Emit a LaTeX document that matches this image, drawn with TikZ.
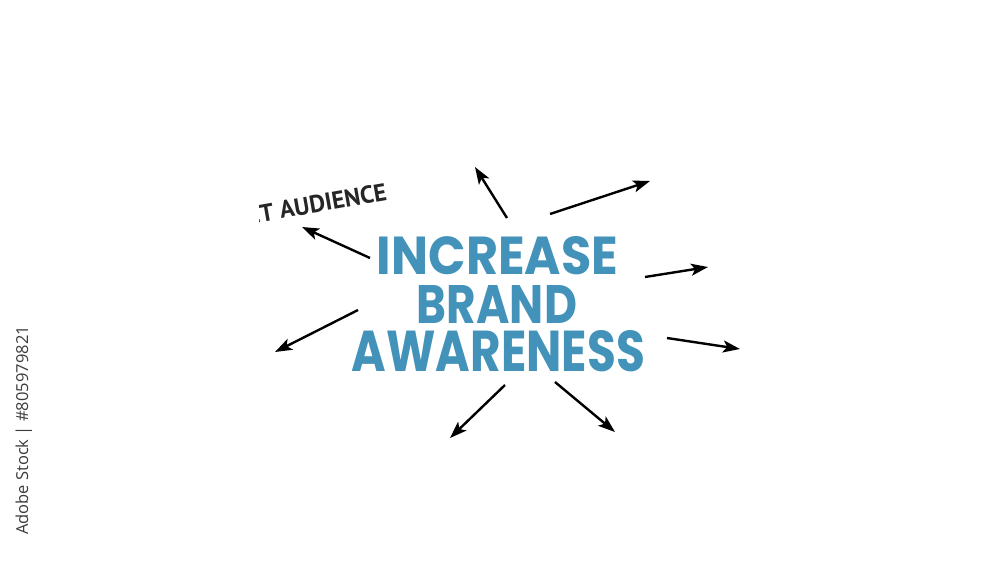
\documentclass[tikz,border=0pt]{standalone}
\usepackage{fontspec}
\setmainfont{Open Sans}
\newfontfamily\bigf{Poppins}
\newfontfamily\labf{PT Sans}
\usetikzlibrary{arrows.meta}
\definecolor{chalkblue}{RGB}{66,146,186}
\definecolor{wmgray}{RGB}{60,60,60}
\tikzset{
  ray/.style={line width=2.4pt, draw=black, -{Stealth[length=17pt,width=12pt,inset=4pt]}},
  bigword/.style={inner sep=0pt, text=chalkblue, anchor=center},
  sidelabel/.style={inner sep=0pt, text=black!85, font=\labf\bfseries\fontsize{24.5}{28}\selectfont},
  stockmark/.style={inner sep=0pt, text=wmgray, font=\fontsize{16.5}{19}\selectfont}
}
\begin{document}
\begin{tikzpicture}[x=1pt,y=-1pt]
\useasboundingbox (0,0) rectangle (1000,563);
\fill[white] (0,0) rectangle (1000,563);

% central words
\node[bigword] (l1) at (497.5,256) {\resizebox{241pt}{38pt}{\bigf\bfseries INCREASE}};
\node[bigword] (l2) at (497,304) {\resizebox{160pt}{38pt}{\bigf\bfseries BRAND}};
\node[bigword] (l3) at (498.5,351.5) {\resizebox{293pt}{41pt}{\bigf\bfseries AWARENESS}};

% side label sliding in, clipped on the left
\begin{scope}
  \clip (259,150) rectangle (430,245);
  \node[sidelabel, anchor=base east, rotate=10] (aud) at (388,200) {ET AUDIENCE};
\end{scope}

% arrow tails and tips
\coordinate (t1) at (370,258); \coordinate (h1) at (302,227);
\coordinate (t2) at (358,310); \coordinate (h2) at (275,352);
\coordinate (t3) at (507,218); \coordinate (h3) at (475,167);
\coordinate (t4) at (550,214); \coordinate (h4) at (650,181);
\coordinate (t5) at (645,277); \coordinate (h5) at (708,267);
\coordinate (t6) at (667,338); \coordinate (h6) at (740,349);
\coordinate (t7) at (555,382); \coordinate (h7) at (615,432);
\coordinate (t8) at (505,385); \coordinate (h8) at (450,438);

\foreach \i in {1,...,8} { \draw[ray] (t\i) -- (h\i); }

% stock mark
\node[stockmark, rotate=90, anchor=base] (wm) at (28,430.5) {Adobe Stock | \#805979821};
\end{tikzpicture}
\end{document}
